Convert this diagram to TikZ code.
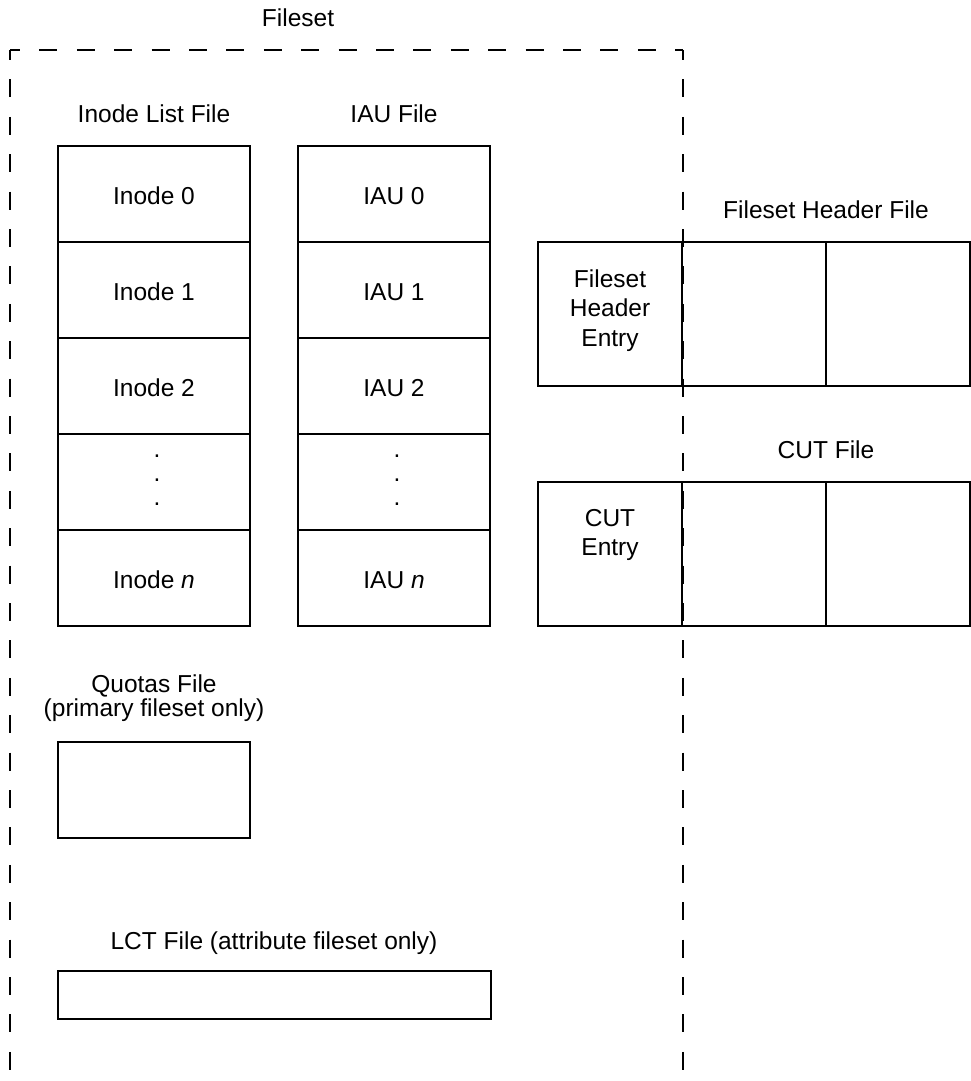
\documentclass[tikz,border=0pt]{standalone}
\usepackage{fontspec}
\setmainfont{Liberation Sans}
\begin{document}
\begin{tikzpicture}[x=1pt,y=-1pt,
  txt/.style={font=\fontsize{24.5}{29.5}\selectfont, inner sep=0pt, outer sep=0pt},
  lbl/.style={txt, anchor=base},
  mlbl/.style={txt, anchor=north, align=center},
  cell/.style={txt, draw, line width=1.5pt, minimum width=192pt, minimum height=96pt, text height=20pt, text depth=0pt},
  hcell/.style={draw, line width=1.5pt, minimum width=144pt, minimum height=144pt, inner sep=0pt, outer sep=0pt},
  plainbox/.style={draw, line width=1.5pt, inner sep=0pt, outer sep=0pt},
  framedash/.style={line width=1.2pt, dash pattern=on 18pt off 19.4pt, dash phase=8pt},
  dotmark/.style={txt, anchor=base}]
\useasboundingbox (0,0) rectangle (970,1081);

% Fileset frame (open at the bottom)
\coordinate (ftl) at (10,50);
\coordinate (ftr) at (683,50);
\coordinate (fbl) at (10,1090);
\coordinate (fbr) at (683,1090);
\draw[framedash] (ftl) -- (fbl);
\draw[framedash] (ftl) -- (ftr);
\draw[framedash] (ftr) -- (fbr);
\node[lbl] (tfileset) at (298,27) {Fileset};

% Inode list file
\node[lbl] (tinode) at (154,122) {Inode List File};
\node[cell] (i0) at (154,194) {Inode 0};
\node[cell] (i1) at (154,290) {Inode 1};
\node[cell] (i2) at (154,386) {Inode 2};
\node[cell] (id) at (154,482) {};
\node[cell] (in) at (154,578) {Inode \textit{n}};
\node[dotmark] (id1) at (157,457) {.};
\node[dotmark] (id2) at (157,481) {.};
\node[dotmark] (id3) at (157,505) {.};

% IAU file
\node[lbl] (tiau) at (394,122) {IAU File};
\node[cell] (a0) at (394,194) {IAU 0};
\node[cell] (a1) at (394,290) {IAU 1};
\node[cell] (a2) at (394,386) {IAU 2};
\node[cell] (ad) at (394,482) {};
\node[cell] (an) at (394,578) {IAU \textit{n}};
\node[dotmark] (ad1) at (397,457) {.};
\node[dotmark] (ad2) at (397,481) {.};
\node[dotmark] (ad3) at (397,505) {.};

% Fileset header file
\node[lbl] (thdr) at (826,218) {Fileset Header File};
\node[hcell] (h1) at (610,314) {};
\node[hcell] (h2) at (754,314) {};
\node[hcell] (h3) at (898,314) {};
\node[mlbl] (h1t) at (610,269.5) {Fileset\\Header\\Entry};

% CUT file
\node[lbl] (tcut) at (826,458) {CUT File};
\node[hcell] (c1) at (610,554) {};
\node[hcell] (c2) at (754,554) {};
\node[hcell] (c3) at (898,554) {};
\node[mlbl] (c1t) at (610,509.2) {CUT\\Entry};

% Quotas file
\node[txt, anchor=north, align=center, font=\fontsize{24.5}{24}\selectfont] (tquota) at (154,675.2) {Quotas File\\(primary fileset only)};
\node[plainbox, minimum width=192pt, minimum height=96pt] (quota) at (154,790) {};

% LCT file
\node[lbl] (tlct) at (274,949) {LCT File (attribute fileset only)};
\node[plainbox, minimum width=433pt, minimum height=48pt] (lct) at (274.5,995) {};
\end{tikzpicture}
\end{document}
